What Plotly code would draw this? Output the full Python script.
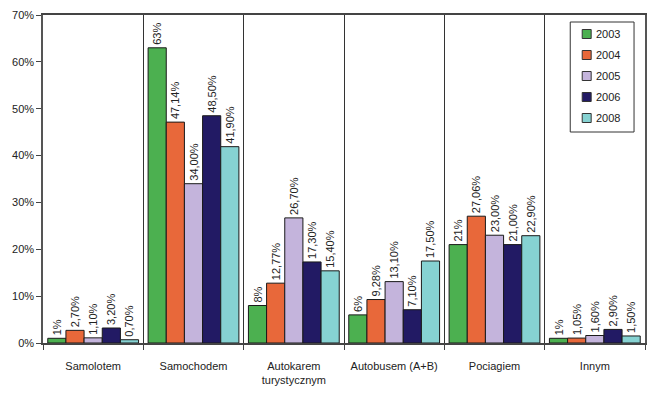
import plotly.graph_objects as go

categories = ["Samolotem", "Samochodem", "Autokarem<br>turystycznym", "Autobusem (A+B)", "Pociagiem", "Innym"]
years = ["2003", "2004", "2005", "2006", "2008"]
v2003 = [1, 63, 8, 6, 21, 1]
v2004 = [2.70, 47.14, 12.77, 9.28, 27.06, 1.05]
v2005 = [1.10, 34.00, 26.70, 13.10, 23.00, 1.60]
v2006 = [3.20, 48.50, 17.30, 7.10, 21.00, 2.90]
v2008 = [0.70, 41.90, 15.40, 17.50, 22.90, 1.50]
l2003 = ["1%", "63%", "8%", "6%", "21%", "1%"]
l2004 = ["2,70%", "47,14%", "12,77%", "9,28%", "27,06%", "1,05%"]
l2005 = ["1,10%", "34,00%", "26,70%", "13,10%", "23,00%", "1,60%"]
l2006 = ["3,20%", "48,50%", "17,30%", "7,10%", "21,00%", "2,90%"]
l2008 = ["0,70%", "41,90%", "15,40%", "17,50%", "22,90%", "1,50%"]

colors = ["#4cb050", "#e8683a", "#c4b4dc", "#221a64", "#86d2d2"]
series = [v2003, v2004, v2005, v2006, v2008]
labels = [l2003, l2004, l2005, l2006, l2008]

font_family = "Liberation Sans, Arial, sans-serif"
W, H = 655, 396
ML, MR, MT, MB = 43, 8, 15, 53
PW, PH = W - ML - MR, H - MT - MB


def px_x(p):
    return (p - ML) / PW


def px_y(p):
    return (H - MB - p) / PH


fig = go.Figure()
for y, vals, labs, c in zip(years, series, labels, colors):
    fig.add_trace(go.Bar(
        name=y, x=categories, y=vals, text=labs,
        textposition="outside", textangle=-90,
        textfont=dict(size=11, color="#222222", family=font_family),
        marker=dict(color=c, line=dict(color="#1a1a1a", width=1)),
        cliponaxis=False, showlegend=False,
    ))

# manual legend box
shapes = [dict(type="rect", xref="paper", yref="paper",
               x0=px_x(572), x1=px_x(636), y0=px_y(132), y1=px_y(22),
               line=dict(color="#333333", width=1), fillcolor="white")]
annotations = []
for i, (y, c) in enumerate(zip(years, colors)):
    cy = 34 + i * 21
    shapes.append(dict(type="rect", xref="paper", yref="paper",
                       x0=px_x(584), x1=px_x(593), y0=px_y(cy + 4.5), y1=px_y(cy - 4.5),
                       line=dict(color="#333333", width=1), fillcolor=c))
    annotations.append(dict(xref="paper", yref="paper", x=px_x(596), y=px_y(cy),
                            xanchor="left", yanchor="middle", text=y, showarrow=False,
                            font=dict(size=11, family=font_family, color="#222222")))

fig.update_layout(
    width=W, height=H,
    margin=dict(l=ML, r=MR, t=MT, b=MB),
    paper_bgcolor="white", plot_bgcolor="white",
    barmode="group", bargap=0.095, bargroupgap=0,
    font=dict(family=font_family, size=11, color="#222222"),
    showlegend=False,
    uniformtext=dict(minsize=11, mode="show"),
    shapes=shapes, annotations=annotations,
)
fig.update_xaxes(
    type="category", tickson="boundaries", ticks="outside", ticklen=5,
    tickcolor="#444444", showgrid=True, gridcolor="#333333", gridwidth=1,
    showline=True, linecolor="#444444", linewidth=1.5, mirror=True,
    tickangle=0, ticklabelstandoff=12,
    tickfont=dict(size=11, family=font_family),
)
fig.update_yaxes(
    range=[0, 70], dtick=10, ticksuffix="%", ticks="outside", ticklen=5,
    tickcolor="#444444", showgrid=False, zeroline=False,
    showline=True, linecolor="#555555", linewidth=1.5, mirror=True,
    tickfont=dict(size=11, family=font_family),
)

fig.write_html(
    "out.html",
    config={"displayModeBar": False},
    post_script="document.body.style.margin='0';document.body.style.overflow='hidden';",
)
